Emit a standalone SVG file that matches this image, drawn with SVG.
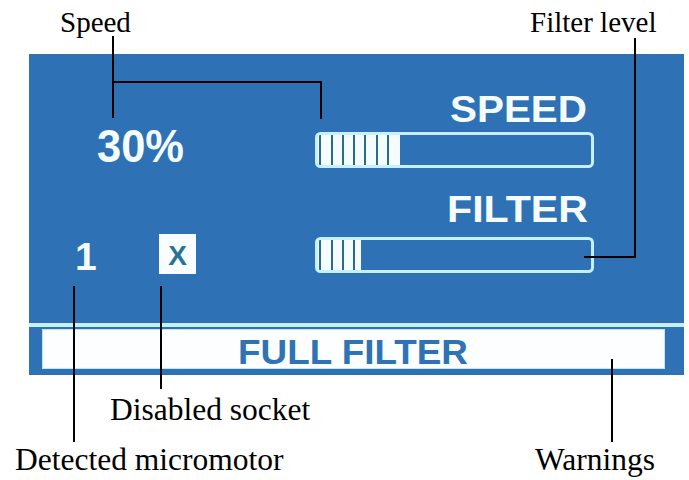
<svg xmlns="http://www.w3.org/2000/svg" width="689" height="480" viewBox="0 0 689 480">
<style>
.lbl{font-family:"Liberation Serif","Times New Roman",serif;fill:#000}
.disp{font-family:"Liberation Sans",Arial,sans-serif;font-weight:bold;fill:#f4fcff}
.bar{fill:none;stroke:#c6f1fa;stroke-width:3}
.seg{stroke:#2b6c8c;stroke-width:2}
.con{fill:none;stroke:#000;stroke-width:2}
</style>
<rect width="689" height="480" fill="#fff"/>
<g id="panel">
<rect x="29" y="54" width="655" height="321" fill="#2e71b4"/>
<rect x="29" y="323" width="655" height="4" fill="#c6f1fa"/>
</g>
<g id="speed-value"><text class="disp" x="97" y="162" font-size="46" textLength="87" lengthAdjust="spacingAndGlyphs">30%</text></g>
<g id="speed-title"><text class="disp" x="450" y="122" font-size="37" textLength="137" lengthAdjust="spacingAndGlyphs">SPEED</text></g>
<g id="filter-title"><text class="disp" x="447" y="222" font-size="36" textLength="141" lengthAdjust="spacingAndGlyphs">FILTER</text></g>
<g id="speed-bar">
<rect x="318" y="135" width="82" height="30" fill="#f4fcff"/>
<g class="seg"><line x1="320" y1="135" x2="320" y2="165"/><line x1="332" y1="135" x2="332" y2="165"/><line x1="343" y1="135" x2="343" y2="165"/><line x1="354" y1="135" x2="354" y2="165"/><line x1="365" y1="135" x2="365" y2="165"/><line x1="377" y1="135" x2="377" y2="165"/><line x1="388" y1="135" x2="388" y2="165"/></g>
<rect class="bar" x="316.5" y="133.5" width="276" height="33" rx="4"/>
</g>
<g id="filter-bar">
<rect x="318" y="240" width="43" height="30" fill="#f4fcff"/>
<g class="seg"><line x1="320" y1="240" x2="320" y2="270"/><line x1="332" y1="240" x2="332" y2="270"/><line x1="343" y1="240" x2="343" y2="270"/><line x1="354" y1="240" x2="354" y2="270"/></g>
<rect class="bar" x="316.5" y="238.5" width="276" height="33" rx="4"/>
</g>
<g id="micromotor"><text class="disp" x="75" y="270" font-size="39">1</text></g>
<g id="socket">
<rect x="159" y="234" width="37" height="40" fill="#f8fdff"/>
<text x="177.5" y="265" font-family="Liberation Sans,Arial,sans-serif" font-weight="bold" font-size="28" fill="#2b7396" text-anchor="middle">X</text>
</g>
<g id="warning">
<rect x="42.5" y="329.5" width="622" height="39" fill="#fdfeff" stroke="#bfe6f5" stroke-width="1"/>
<text x="238" y="364" font-family="Liberation Sans,Arial,sans-serif" font-weight="bold" font-size="35" fill="#2f72b6" textLength="230" lengthAdjust="spacingAndGlyphs">FULL FILTER</text>
</g>
<g id="connectors">
<polyline class="con" points="113,36 113,118"/>
<polyline class="con" points="113,82 321,82 321,119"/>
<polyline class="con" points="635,38 635,257 584,257"/>
<line class="con" x1="74" y1="286" x2="74" y2="442"/>
<line class="con" x1="161" y1="286" x2="161" y2="389"/>
<line class="con" x1="612" y1="359" x2="612" y2="442"/>
</g>
<g id="labels">
<text class="lbl" x="60" y="32" font-size="29">Speed</text>
<text class="lbl" x="530" y="32" font-size="29">Filter level</text>
<text class="lbl" x="110" y="420" font-size="31.5">Disabled socket</text>
<text class="lbl" x="15" y="470" font-size="31.5">Detected micromotor</text>
<text class="lbl" x="535" y="470" font-size="31.5">Warnings</text>
</g>
</svg>
